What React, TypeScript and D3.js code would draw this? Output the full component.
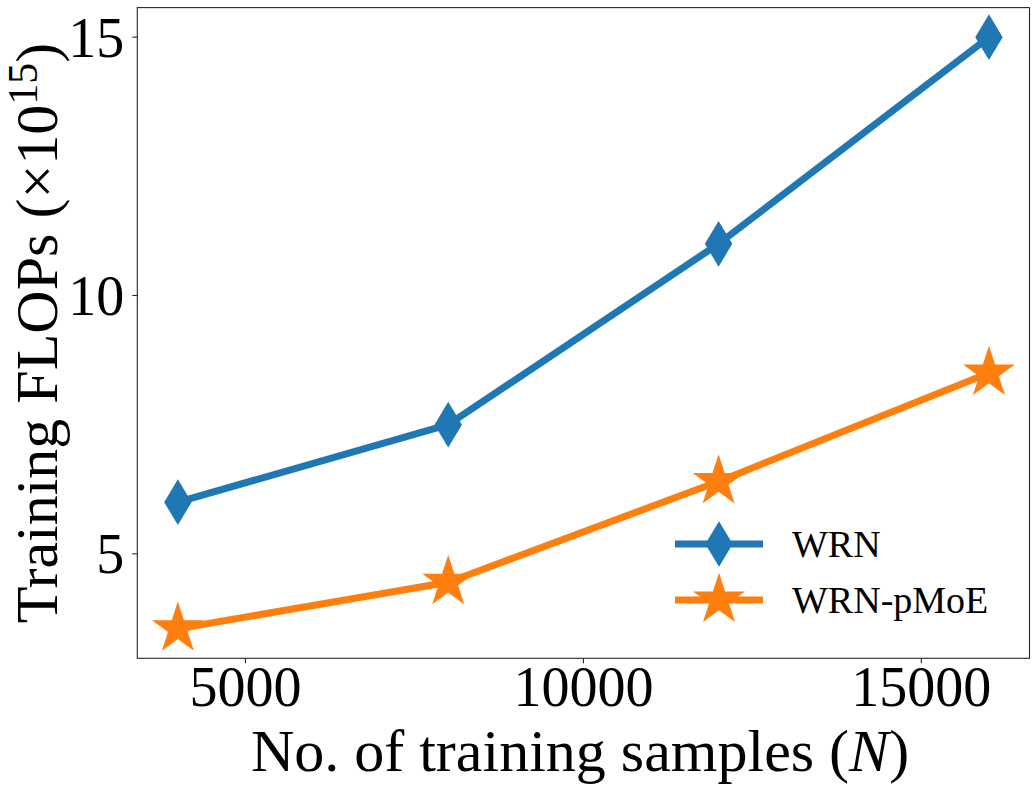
import React from "react";
import * as d3 from "d3";

const samples = [4000, 8000, 12000, 16000];
const wrnFlops = [6.0, 7.5, 11.0, 15.0];
const pmoeFlops = [3.55, 4.45, 6.4, 8.5];
const xTicks = [5000, 10000, 15000];
const yTicks = [5, 10, 15];
const seriesNames = ["WRN", "WRN-pMoE"];
const seriesColors = ["#1f77b4", "#ff7f0e"];

const W = 1036;
const H = 790;
const M = { left: 137.3, right: 1029.5, top: 7.6, bottom: 658.3 };
const FONT = "'Liberation Serif', 'Times New Roman', serif";

function starPath(R: number) {
  const r = R * 0.381966;
  const pts: [number, number][] = [];
  for (let i = 0; i < 10; i++) {
    const a = (Math.PI / 5) * i - Math.PI / 2;
    const rad = i % 2 === 0 ? R : r;
    pts.push([rad * Math.cos(a), rad * Math.sin(a)]);
  }
  return "M" + pts.map((p) => p[0].toFixed(2) + "," + p[1].toFixed(2)).join("L") + "Z";
}

function diamondPath(h: number) {
  const w = h * 0.6;
  return `M0,${-h}L${w},0L0,${h}L${-w},0Z`;
}

export default function App() {
  const xExt = d3.extent(samples) as [number, number];
  const xPad = (xExt[1] - xExt[0]) * 0.05;
  const x = d3.scaleLinear().domain([xExt[0] - xPad, xExt[1] + xPad]).range([M.left, M.right]);
  const all = [...wrnFlops, ...pmoeFlops];
  const yExt = d3.extent(all) as [number, number];
  const yPad = (yExt[1] - yExt[0]) * 0.05;
  const y = d3.scaleLinear().domain([yExt[0] - yPad, yExt[1] + yPad]).range([M.bottom, M.top]);

  const line = d3
    .line<number>()
    .x((_, i) => x(samples[i]))
    .y((d) => y(d));

  const series = [wrnFlops, pmoeFlops];
  const markers = [diamondPath(21.5), starPath(25)];
  const legendMarkers = [diamondPath(21.5), starPath(25)];

  return (
    <svg width={W} height={H} style={{ position: "absolute", left: 0, top: 0, background: "#fff" }}>
      <rect x={0} y={0} width={W} height={H} fill="#fff" />
      {series.map((s, si) => (
        <g key={si}>
          <path d={line(s) || ""} fill="none" stroke={seriesColors[si]} strokeWidth={7} strokeLinejoin="round" />
          {s.map((v, i) => (
            <path key={i} d={markers[si]} transform={`translate(${x(samples[i])},${y(v)})`} fill={seriesColors[si]} stroke={seriesColors[si]} strokeWidth={1.4} />
          ))}
        </g>
      ))}
      <rect x={M.left} y={M.top} width={M.right - M.left} height={M.bottom - M.top} fill="none" stroke="#262626" strokeWidth={1.1} />
      {xTicks.map((t) => (
        <g key={t}>
          <line x1={x(t)} x2={x(t)} y1={M.bottom} y2={M.bottom + 5} stroke="#262626" strokeWidth={1.1} />
          <text x={x(t)} y={M.bottom + 48} textAnchor="middle" fontFamily={FONT} fontSize={56}>
            {t}
          </text>
        </g>
      ))}
      {yTicks.map((t) => (
        <g key={t}>
          <line x1={M.left} x2={M.left - 5} y1={y(t)} y2={y(t)} stroke="#262626" strokeWidth={1.1} />
          <text x={M.left - 13} y={y(t)} dy="0.35em" textAnchor="end" fontFamily={FONT} fontSize={56}>
            {t}
          </text>
        </g>
      ))}
      <text x={580} y={771} textAnchor="middle" fontFamily={FONT} fontSize={60}>
        No. of training samples (<tspan fontStyle="italic">N</tspan>)
      </text>
      <text transform={`translate(57,${(M.top + M.bottom) / 2}) rotate(-90)`} textAnchor="middle" fontFamily={FONT} fontSize={60}>
        Training FLOPs (×10<tspan dy={-20} fontSize={42}>15</tspan><tspan dy={20}>)</tspan>
      </text>
      {seriesNames.map((n, i) => {
        const ly = 544 + i * 56;
        return (
          <g key={n}>
            <line x1={675} x2={763} y1={ly} y2={ly} stroke={seriesColors[i]} strokeWidth={7} />
            <path d={legendMarkers[i]} transform={`translate(719,${ly})`} fill={seriesColors[i]} stroke={seriesColors[i]} strokeWidth={1.4} />
            <text x={792} y={ly} dy="0.35em" fontFamily={FONT} fontSize={38}>
              {n}
            </text>
          </g>
        );
      })}
    </svg>
  );
}
